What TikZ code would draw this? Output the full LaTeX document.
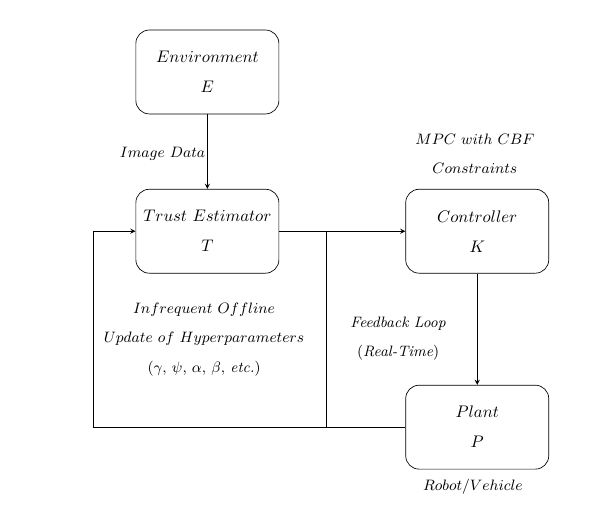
\documentclass[tikz,border=0pt]{standalone}
\usepackage{tikz}

\begin{document}
\begin{tikzpicture}[box/.style={draw, rounded corners=8pt, minimum width=3cm, minimum height=1.76cm, align=center, execute at begin node=\rule{0pt}{10.5pt}}, lbl/.style={align=center, font=\small}]
	\useasboundingbox (0, 0) rectangle (12.69, 11.08);
	\node[box] (1) at (4.35, 9.57) {$Environment$\\[5.9pt]$E$};
	\node[box] (2) at (4.35, 6.23) {$Trust\ Estimator$\\[5.9pt]$T$};
	\node[box] (3) at (10.01, 6.23) {$Controller$\\[5.9pt]$K$};
	\node[box] (4) at (10.01, 2.12) {$Plant$\\[5.9pt]$P$};
	\node[lbl] (5) at (3.41, 7.85) {$Image\ Data$};
	\node[lbl] (6) at (9.96, 7.86) {$MPC\ with\ CBF$\\[6.6pt]$Constraints$};
	\node[lbl] (7) at (4.28, 3.96) {$Infrequent\ Offline$\\[6.6pt]$Update\ of\ Hyperparameters$\\[6.6pt]$(\gamma,\,\psi,\,\alpha,\,\beta,\,\textit{etc.})$};
	\node[lbl] (8) at (8.35, 3.98) {\textit{Feedback Loop}\\[6.6pt]$(\textit{Real-Time})$};
	\node[lbl] (9) at (9.92, 0.88) {$Robot/Vehicle$};
	\coordinate (10) at (6.84, 6.23);
	\coordinate (11) at (6.84, 2.12);
	\coordinate (12) at (1.95, 2.12);
	\coordinate (13) at (1.95, 6.23);
	\draw[-stealth] (1) -- (2);
	\draw[-stealth] (2) -- (3);
	\draw[-stealth] (3) -- (4);
	\draw (10) -- (11);
	\draw[-stealth] (4) -- (12) -- (13) -- (2);
\end{tikzpicture}
\end{document}
